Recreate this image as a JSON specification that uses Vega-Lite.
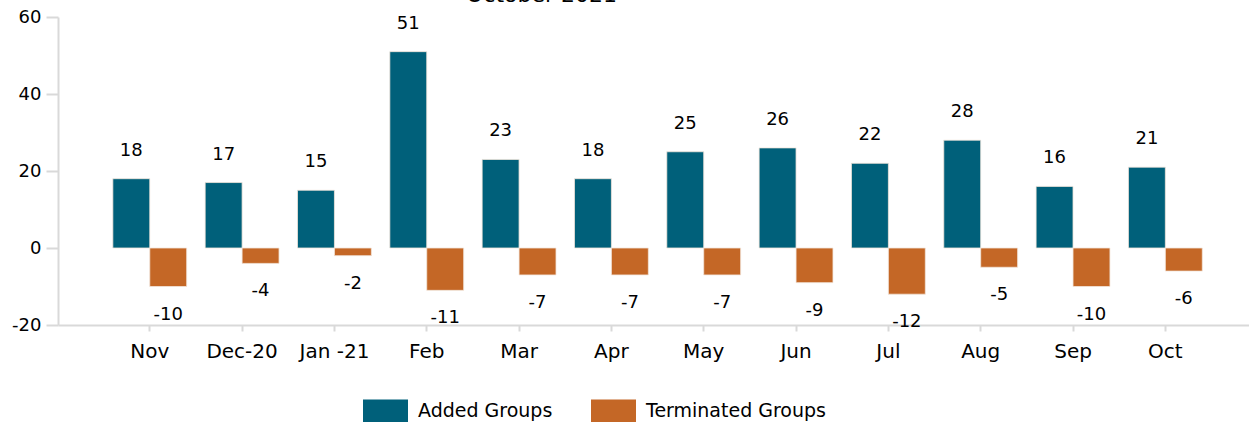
{
  "$schema": "https://vega.github.io/schema/vega-lite/v6.json",
  "width": 1191,
  "height": 308,
  "autosize": {"type": "none"},
  "padding": {"left": 58, "top": 17, "right": 0, "bottom": 100},
  "config": {
    "font": "DejaVu Sans",
    "view": {"stroke": null}
  },
  "title": {
    "text": "October 2021",
    "fontSize": 22,
    "fontWeight": "normal",
    "color": "#000000",
    "anchor": "middle",
    "baseline": "alphabetic",
    "dx": -112,
    "dy": 20,
    "offset": 4
  },
  "data": {
    "values": [
      {"month": "Nov", "series": "Added Groups", "value": 18},
      {"month": "Nov", "series": "Terminated Groups", "value": -10},
      {"month": "Dec-20", "series": "Added Groups", "value": 17},
      {"month": "Dec-20", "series": "Terminated Groups", "value": -4},
      {"month": "Jan -21", "series": "Added Groups", "value": 15},
      {"month": "Jan -21", "series": "Terminated Groups", "value": -2},
      {"month": "Feb", "series": "Added Groups", "value": 51},
      {"month": "Feb", "series": "Terminated Groups", "value": -11},
      {"month": "Mar", "series": "Added Groups", "value": 23},
      {"month": "Mar", "series": "Terminated Groups", "value": -7},
      {"month": "Apr", "series": "Added Groups", "value": 18},
      {"month": "Apr", "series": "Terminated Groups", "value": -7},
      {"month": "May", "series": "Added Groups", "value": 25},
      {"month": "May", "series": "Terminated Groups", "value": -7},
      {"month": "Jun", "series": "Added Groups", "value": 26},
      {"month": "Jun", "series": "Terminated Groups", "value": -9},
      {"month": "Jul", "series": "Added Groups", "value": 22},
      {"month": "Jul", "series": "Terminated Groups", "value": -12},
      {"month": "Aug", "series": "Added Groups", "value": 28},
      {"month": "Aug", "series": "Terminated Groups", "value": -5},
      {"month": "Sep", "series": "Added Groups", "value": 16},
      {"month": "Sep", "series": "Terminated Groups", "value": -10},
      {"month": "Oct", "series": "Added Groups", "value": 21},
      {"month": "Oct", "series": "Terminated Groups", "value": -6}
    ]
  },
  "encoding": {
    "x": {
      "field": "month",
      "type": "nominal",
      "sort": null,
      "scale": {"paddingInner": 0.2, "paddingOuter": 0.55, "align": 0.54},
      "axis": {
        "title": null,
        "labelAngle": 0,
        "labelFontSize": 20,
        "labelColor": "#000000",
        "labelPadding": 10,
        "domainColor": "#d9d9d9",
        "domainWidth": 2,
        "tickColor": "#d9d9d9",
        "tickWidth": 2,
        "tickSize": 6,
        "bandPosition": 0.5,
        "orient": "bottom"
      }
    },
    "xOffset": {"field": "series", "type": "nominal", "sort": ["Added Groups", "Terminated Groups"]},
    "y": {
      "field": "value",
      "type": "quantitative",
      "scale": {"domain": [-20, 60], "nice": false, "zero": false},
      "axis": {
        "title": null,
        "values": [-20, 0, 20, 40, 60],
        "labelExpr": "'' + datum.value",
        "grid": false,
        "labelFontSize": 18,
        "labelColor": "#000000",
        "labelPadding": 5,
        "domainColor": "#d9d9d9",
        "domainWidth": 2,
        "tickColor": "#d9d9d9",
        "tickWidth": 2,
        "tickSize": 12
      }
    }
  },
  "layer": [
    {
      "mark": {"type": "bar", "stroke": "#f3e6dc", "strokeWidth": 0.8},
      "encoding": {
        "color": {
          "field": "series",
          "type": "nominal",
          "scale": {"domain": ["Added Groups", "Terminated Groups"], "range": ["#00607a", "#c46726"]},
          "legend": {
            "title": null,
            "orient": "none",
            "direction": "horizontal",
            "legendX": 305,
            "legendY": 371,
            "symbolType": "M-1,-0.5L1,-0.5L1,0.5L-1,0.5Z",
            "symbolSize": 2025,
            "symbolStrokeWidth": 0,
            "labelFontSize": 19,
            "labelLimit": 400,
            "labelColor": "#000000",
            "labelOffset": 10,
            "columnPadding": 38,
            "symbolOpacity": 1
          }
        }
      }
    },
    {
      "transform": [{"filter": "datum.series == 'Added Groups'"}],
      "mark": {"type": "text", "dy": -28, "fontSize": 18, "color": "#000000"},
      "encoding": {"text": {"field": "value", "type": "nominal"}}
    },
    {
      "transform": [{"filter": "datum.series == 'Terminated Groups'"}],
      "mark": {"type": "text", "dy": 28, "fontSize": 18, "color": "#000000"},
      "encoding": {"text": {"field": "value", "type": "nominal"}}
    }
  ]
}
